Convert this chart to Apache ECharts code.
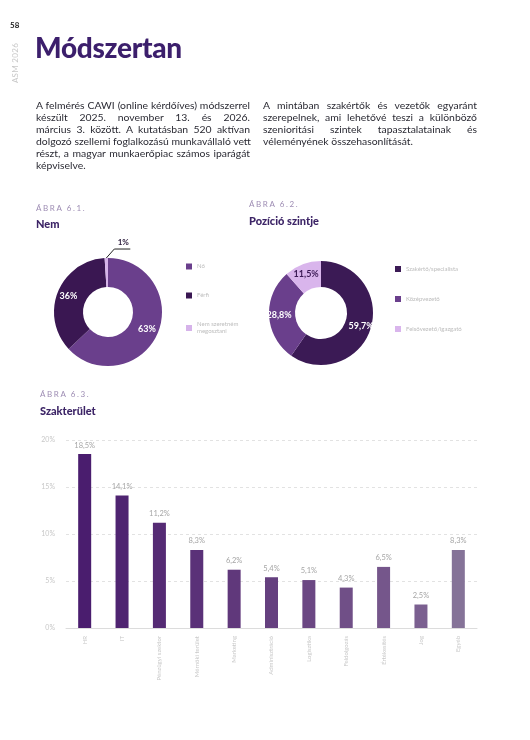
<!DOCTYPE html>
<html>
<head>
<meta charset="utf-8">
<script src="https://cdn.jsdelivr.net/npm/echarts@6/dist/echarts.min.js"></script>
<style>
  html, body { margin: 0; padding: 0; background: #fff; }
  body { width: 530px; height: 740px; position: relative; overflow: hidden; font-family: Lato, "Noto Sans", sans-serif; }
  #chart { position: absolute; left: 0; top: 0; width: 530px; height: 740px; }
  .abs { position: absolute; white-space: nowrap; }
  .pnum { left: 10px; top: 20px; font-size: 8px; font-weight: 700; color: #222; }
  .asm { left: 15px; top: 63px; font-size: 8px; color: #c9c9c9; transform: translate(-50%, -50%) rotate(-90deg); letter-spacing: 0.3px; }
  .title { left: 35px; top: 30px; font-size: 28px; font-weight: 900; color: #3c1f6c; letter-spacing: -0.3px; }
  .para { position: absolute; font-size: 10.4px; color: #2a2a33; line-height: 12px; }
  .para div { text-align: justify; text-align-last: justify; white-space: nowrap; }
  .para div.last { text-align-last: left; }
  .fig { font-size: 8px; color: #9d8cb3; letter-spacing: 1.6px; }
  .ftitle { font-size: 11px; font-weight: 900; color: #3c2466; }
</style>
</head>
<body>
<div id="chart"></div>
<div class="abs pnum">58</div>
<div class="abs asm">ASM 2026</div>
<div class="abs title">Módszertan</div>

<div class="para" style="left:36px; top:99px; width:214px;">
  <div>A felmérés CAWI (online kérdőíves) módszerrel</div>
  <div>készült 2025. november 13. és 2026.</div>
  <div>március 3. között. A kutatásban 520 aktívan</div>
  <div>dolgozó szellemi foglalkozású munkavállaló vett</div>
  <div>részt, a magyar munkaerőpiac számos iparágát</div>
  <div class="last">képviselve.</div>
</div>
<div class="para" style="left:263px; top:99px; width:214px;">
  <div>A mintában szakértők és vezetők egyaránt</div>
  <div>szerepelnek, ami lehetővé teszi a különböző</div>
  <div>szenioritási szintek tapasztalatainak és</div>
  <div class="last">véleményének összehasonlítását.</div>
</div>

<div class="abs fig" style="left:36px; top:203px;">ÁBRA 6.1.</div>
<div class="abs ftitle" style="left:36px; top:217px;">Nem</div>
<div class="abs fig" style="left:249px; top:199px;">ÁBRA 6.2.</div>
<div class="abs ftitle" style="left:249px; top:214px;">Pozíció szintje</div>
<div class="abs fig" style="left:40px; top:389px;">ÁBRA 6.3.</div>
<div class="abs ftitle" style="left:40px; top:404px;">Szakterület</div>

<script>
// Ábra 6.1 - Nem
const genderNames = ['Nő', 'Férfi', 'Nem szeretném\nmegosztani']
const genderValues = [63, 36, 1]
const genderColors = ['#6a3f8c', '#3a1752', '#d6b3ea']

// Ábra 6.2 - Pozíció szintje
const levelNames = ['Szakértő/specialista', 'Középvezető', 'Felsővezető/igazgató']
const levelValues = [59.7, 28.8, 11.5]
const levelColors = ['#3b1a55', '#6a3f8c', '#d9b5ec']

// Ábra 6.3 - Szakterület
const fieldNames = ['HR', 'IT', 'Pénzügyi szektor', 'Mérnöki terület', 'Marketing', 'Adminisztráció',
  'Logisztika', 'Feldolgozás', 'Értékesítés', 'Jog', 'Egyéb']
const fieldValues = [18.5, 14.1, 11.2, 8.3, 6.2, 5.4, 5.1, 4.3, 6.5, 2.5, 8.3]
const fieldColors = ['#4a1d6e', '#4f2471', '#552b74', '#5a3178', '#60387b', '#65407f',
  '#6b4783', '#704f87', '#75568b', '#7b6090', '#857398']
const yTicks = [0, 5, 10, 15, 20]

const fmt = v => String(v).replace('.', ',') + '%'

const chart = echarts.init(document.getElementById('chart'))

const pieLabel = {
  show: true,
  position: 'inside',
  color: '#fff',
  fontSize: 9,
  fontWeight: 'bold',
  fontFamily: 'Lato',
  formatter: p => fmt(p.value)
}

chart.setOption({
  animation: false,
  textStyle: { fontFamily: 'Lato' },
  legend: [
    {
      data: genderNames,
      orient: 'vertical',
      left: 181,
      top: 258,
      itemWidth: 6,
      itemHeight: 6,
      itemGap: 22,
      icon: 'rect',
      textStyle: { fontSize: 6, color: '#bdbdbd', lineHeight: 7 }
    },
    {
      data: levelNames,
      orient: 'vertical',
      left: 390,
      top: 261,
      itemWidth: 6,
      itemHeight: 6,
      itemGap: 24,
      icon: 'rect',
      textStyle: { fontSize: 6, color: '#bdbdbd' }
    }
  ],
  grid: { left: 66, right: 53, top: 440, height: 188 },
  xAxis: {
    type: 'category',
    data: fieldNames,
    axisLine: { lineStyle: { color: '#dcdcdc' } },
    axisTick: { show: false },
    axisLabel: { rotate: 90, fontSize: 6, color: '#c8c8c8', margin: 8, interval: 0 }
  },
  yAxis: {
    type: 'value',
    min: yTicks[0],
    max: yTicks[yTicks.length - 1],
    interval: 5,
    axisLine: { show: false },
    axisTick: { show: false },
    axisLabel: { fontSize: 7, color: '#c8c8c8', margin: 11, formatter: v => v + '%' },
    splitLine: { lineStyle: { color: '#e2e2e2', type: [3, 3] } }
  },
  series: [
    {
      type: 'pie',
      center: [108, 312],
      radius: [25, 54],
      startAngle: 90,
      clockwise: true,
      data: genderNames.map((n, i) => ({
        name: n,
        value: genderValues[i],
        itemStyle: { color: genderColors[i] },
        label: i === 2 ? {
          position: 'outside',
          color: '#2a1a3a',
          fontSize: 8,
          fontWeight: 'bold'
        } : undefined,
        labelLine: i === 2 ? { show: true, lineStyle: { color: '#222', width: 1 } } : undefined
      })),
      label: pieLabel,
      labelLine: { show: false },
      labelLayout: function (p) {
        if (p.dataIndex !== 2 || !p.labelLinePoints) return {}
        const s = p.labelLinePoints[0]
        return {
          x: s[0] + 17,
          y: s[1] - 16,
          align: 'center',
          verticalAlign: 'middle',
          labelLinePoints: [s, [s[0] + 8, s[1] - 9], [s[0] + 24, s[1] - 9]]
        }
      }
    },
    {
      type: 'pie',
      center: [321, 313],
      radius: [26, 52],
      startAngle: 90,
      clockwise: true,
      data: levelNames.map((n, i) => ({
        name: n,
        value: levelValues[i],
        itemStyle: { color: levelColors[i] },
        label: i === 2 ? { color: '#3b1a55' } : undefined
      })),
      label: pieLabel,
      labelLine: { show: false }
    },
    {
      type: 'bar',
      barWidth: 13,
      data: fieldValues.map((v, i) => ({ value: v, itemStyle: { color: fieldColors[i] } })),
      label: {
        show: true,
        position: 'top',
        distance: 5,
        fontSize: 7.5,
        color: '#a5a5a5',
        formatter: p => fmt(p.value)
      }
    }
  ]
})
</script>
</body>
</html>
